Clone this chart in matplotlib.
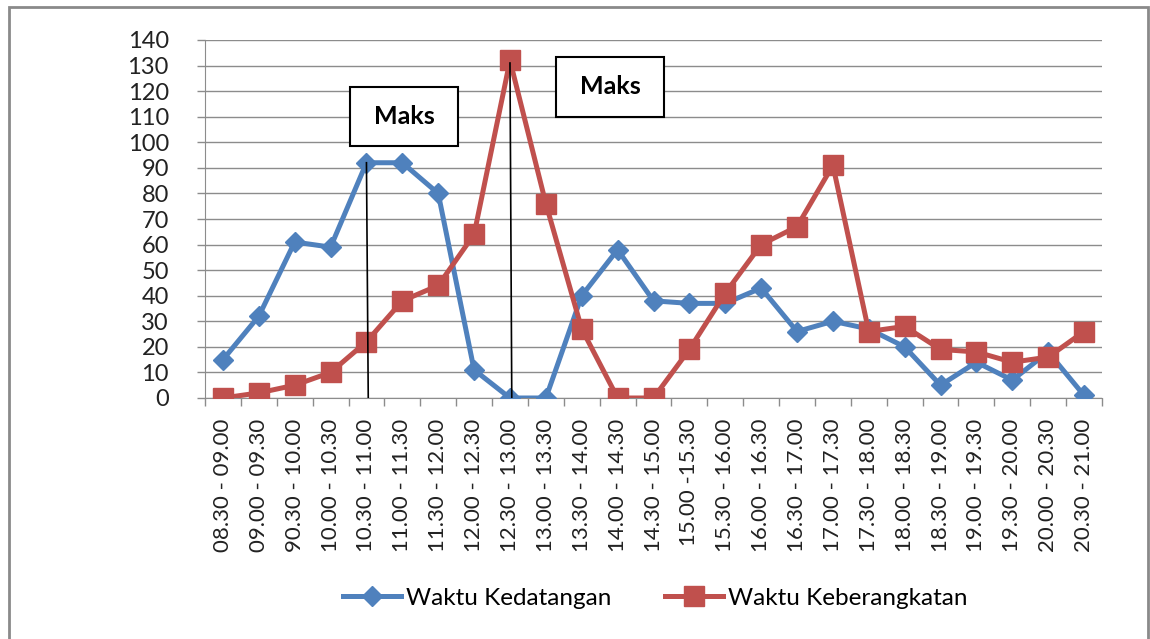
import numpy as np
import matplotlib
matplotlib.use("Agg")
import matplotlib.pyplot as plt
from matplotlib.patches import Rectangle
from matplotlib.lines import Line2D

plt.rcParams['font.family'] = ['Lato', 'DejaVu Sans']

slots = ["08.30 - 09.00", "09.00 - 09.30", "90.30 - 10.00", "10.00 - 10.30",
         "10.30 - 11.00", "11.00 - 11.30", "11.30 - 12.00", "12.00 - 12.30",
         "12.30 - 13.00", "13.00 - 13.30", "13.30 - 14.00", "14.00 - 14.30",
         "14.30 - 15.00", "15.00 -15.30", "15.30 - 16.00", "16.00 - 16.30",
         "16.30 - 17.00", "17.00 - 17.30", "17.30 - 18.00", "18.00 - 18.30",
         "18.30 - 19.00", "19.00 - 19.30", "19.30 - 20.00", "20.00 - 20.30",
         "20.30 - 21.00"]
kedatangan = [15, 32, 61, 59, 92, 92, 80, 11, 0, 0, 40, 58, 38, 37, 37,
              43, 26, 30, 27, 20, 5, 14, 7, 18, 1]
keberangkatan = [0, 2, 5, 10, 22, 38, 44, 64, 132, 76, 27, 0, 0, 19, 41,
                 60, 67, 91, 26, 28, 19, 18, 14, 16, 26]
yticks = list(range(0, 141, 10))

blue = "#4F81BD"
red = "#C0504D"
grid_c = "#8C8C8C"
W, H = 1150, 639

fig = plt.figure(figsize=(11.5, 6.39), dpi=100)
# outer chart frame
fig.patches.append(Rectangle((9 / W, -0.05), 1139 / W, 1.05 - 7 / H,
                             transform=fig.transFigure, fill=False,
                             edgecolor="#8A8A8A", linewidth=2))

ax = fig.add_axes([205 / W, 1 - 398 / H, 897 / W, 358 / H])
x = np.arange(len(slots))

ax.plot(x, kedatangan, color=blue, linewidth=3.6, marker="D", markersize=10,
        label="Waktu Kedatangan", zorder=3)
ax.plot(x, keberangkatan, color=red, linewidth=3.6, marker="s", markersize=14,
        label="Waktu Keberangkatan", zorder=4)

ax.set_xlim(-0.5, len(slots) - 0.5)
ax.set_ylim(0, 140)
ax.set_yticks(yticks)
ax.set_yticklabels([str(v) for v in yticks], fontsize=17, color="#222222")
ax.set_xticks(x)
ax.set_xticklabels(slots, rotation=90, fontsize=16, color="#222222")
ax.set_xticks(np.arange(-0.5, len(slots)), minor=True)
ax.tick_params(axis="x", which="major", length=0, pad=15)
ax.tick_params(axis="x", which="minor", length=6, color=grid_c, width=1)
ax.tick_params(axis="y", length=6, color=grid_c, width=1, pad=20)
ax.yaxis.grid(True, color=grid_c, linewidth=1)
ax.set_axisbelow(True)
for s in ["top", "right"]:
    ax.spines[s].set_visible(False)
for s in ["left", "bottom"]:
    ax.spines[s].set_color(grid_c)

# "Maks" call-outs
ax.plot([4, 4.05], [92, 0], color="black", linewidth=1.2, zorder=5)
ax.plot([8, 8.05], [131, 0], color="black", linewidth=1.2, zorder=5)
for (bx0, by0, bx1, by1) in [(350, 87, 458, 146), (556, 57, 664, 117)]:
    fig.patches.append(Rectangle((bx0 / W, 1 - by1 / H), (bx1 - bx0) / W,
                                 (by1 - by0) / H, transform=fig.transFigure,
                                 facecolor="white", edgecolor="black",
                                 linewidth=1.5, zorder=6))
    fig.text((bx0 + bx1) / 2 / W, 1 - (by0 + by1) / 2 / H, "Maks",
             fontsize=18, fontweight="bold", ha="center", va="center",
             zorder=7)

handles = [Line2D([], [], color=blue, linewidth=3.6, marker="D", markersize=10),
           Line2D([], [], color=red, linewidth=3.6, marker="s", markersize=14)]
fig.legend(handles, ["Waktu Kedatangan", "Waktu Keberangkatan"],
           loc="center", bbox_to_anchor=(655 / W, 1 - 598 / H), ncol=2,
           frameon=False, fontsize=17.5, handlelength=2.4, columnspacing=2.2,
           handletextpad=0.2)

fig.savefig("out.png", dpi=100)
